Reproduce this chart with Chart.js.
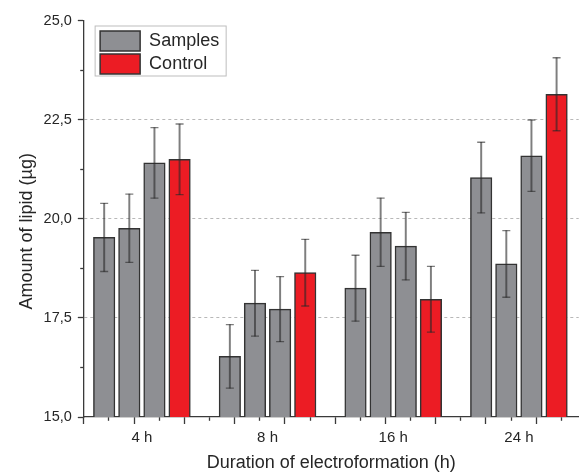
<!DOCTYPE html>
<html>
<head>
<meta charset="utf-8">
<title>Amount of lipid by duration of electroformation</title>
<script src="https://cdn.jsdelivr.net/npm/chart.js@4/dist/chart.umd.min.js"></script>
<style>
  html, body { margin: 0; padding: 0; background: #ffffff; overflow: hidden; }
  #wrap { position: relative; width: 584px; height: 472px; }
</style>
</head>
<body>
<div id="wrap"><canvas id="chart"></canvas></div>
<script>
// ---- data -------------------------------------------------------------
const groups = ['4 h', '8 h', '16 h', '24 h'];
const seriesNames = ['Samples', 'Control'];
// three sample preparations per duration (mean, µg) and their error
const sampleMeans = [
  [19.53, 19.76, 21.41],
  [16.53, 17.87, 17.72],
  [18.25, 19.66, 19.31],
  [21.04, 18.86, 21.59]
];
const sampleErrors = [
  [0.86, 0.86, 0.89],
  [0.80, 0.83, 0.82],
  [0.83, 0.86, 0.85],
  [0.89, 0.84, 0.90]
];
const controlMeans = [21.50, 18.64, 17.97, 23.14];
const controlErrors = [0.89, 0.84, 0.83, 0.92];
const yMin = 15, yMax = 25, yMajorStep = 2.5, yMinorStep = 1.25;
const xTitle = 'Duration of electroformation (h)';
const yTitle = 'Amount of lipid (µg)';

// ---- layout / style ---------------------------------------------------
const FONT = "'Liberation Sans', Arial, Helvetica, sans-serif";
const GREY = '#8e8f93', RED = '#ec1c24', EDGE = '#333333';
const ERR = 'rgba(40,40,40,0.6)', AXIS = '#3a3a3a', TEXT = '#262626';
const perGroup = sampleMeans[0].length + 1;   // samples + control
const stride = perGroup + 1;                  // one empty slot between groups
const barOffset = 0.81;                       // bar centre inside its slot
const xMax = 19.69;                           // slot axis runs 0..xMax
const slotX = (g, i) => g * stride + i + barOffset;

const samplePoints = [], controlPoints = [], stems = [], caps = [];
sampleMeans.forEach((row, g) => row.forEach((m, i) => {
  const x = slotX(g, i), e = sampleErrors[g][i];
  samplePoints.push({ x, y: m });
  stems.push({ x, y: [m - e, m + e] });
  caps.push({ x, y: m - e }, { x, y: m + e });
}));
controlMeans.forEach((m, g) => {
  const x = slotX(g, perGroup - 1), e = controlErrors[g];
  controlPoints.push({ x, y: m });
  stems.push({ x, y: [m - e, m + e] });
  caps.push({ x, y: m - e }, { x, y: m + e });
});
const groupCenters = groups.map((_, g) => g * stride + (perGroup - 1) / 2 + barOffset);

const isMajorY = v => Math.abs(v / yMajorStep - Math.round(v / yMajorStep)) < 1e-6;
const isMajorX = v => Math.round(v) % 2 === 0;

// framed legend sitting in the upper-left corner of the plot
const legendFrame = {
  id: 'legendFrame',
  afterLayout(chart) {
    const lg = chart.legend, area = chart.chartArea;
    const dx = area.left + 13.3 - lg.left, dy = area.top + 7.5 - lg.top;
    lg.left += dx; lg.right += dx;
    lg.top += dy; lg.bottom += dy;
  },
  afterDraw(chart) {
    const boxes = chart.legend.legendHitBoxes;
    if (!boxes || !boxes.length) return;
    const l = Math.min(...boxes.map(b => b.left));
    const t = Math.min(...boxes.map(b => b.top));
    const r = Math.max(...boxes.map(b => b.left + b.width));
    const b = Math.max(...boxes.map(b => b.top + b.height));
    const ctx = chart.ctx;
    ctx.save();
    ctx.strokeStyle = '#bdbdbd';
    ctx.lineWidth = 1;
    ctx.strokeRect(l - 5, t - 5, r - l + 12, b - t + 7);
    ctx.restore();
  }
};

new Chart(document.getElementById('chart'), {
  type: 'bar',
  data: {
    datasets: [
      { label: seriesNames[0], data: samplePoints, backgroundColor: GREY, borderColor: EDGE,
        borderWidth: 1.5, borderSkipped: false, barThickness: 21.5, grouped: false, order: 2 },
      { label: seriesNames[1], data: controlPoints, backgroundColor: RED, borderColor: EDGE,
        borderWidth: 1.5, borderSkipped: false, barThickness: 21.5, grouped: false, order: 2 },
      { label: 'error', data: stems, backgroundColor: ERR, borderWidth: 0,
        barThickness: 1.3, grouped: false, order: 1 },
      { type: 'scatter', label: 'error caps', data: caps, showLine: false, pointStyle: 'line',
        pointRadius: 4, pointHoverRadius: 4, borderColor: ERR, backgroundColor: ERR,
        borderWidth: 1.3, order: 0 }
    ]
  },
  options: {
    responsive: true,
    maintainAspectRatio: false,
    devicePixelRatio: 1,
    animation: false,
    layout: { padding: { left: 10, top: 20.5, right: 0, bottom: 0 } },
    plugins: {
      tooltip: { enabled: false },
      legend: {
        position: 'chartArea',
        align: 'start',
        labels: {
          boxWidth: 40, boxHeight: 20, padding: 3, color: TEXT,
          font: { family: FONT, size: 18 },
          filter: item => item.datasetIndex < 2
        }
      }
    },
    scales: {
      x: {
        type: 'linear', position: 'bottom', min: 0, max: xMax,
        offset: false,
        afterBuildTicks: scale => {
          const t = [];
          for (let v = 0; v <= Math.floor(xMax); v++) t.push({ value: v });
          scale.ticks = t;
        },
        ticks: { display: false, autoSkip: false },
        grid: {
          offset: false, drawOnChartArea: false, drawTicks: true, tickLength: 7,
          tickColor: AXIS, tickWidth: 1.3,
          tickBorderDash: c => (c.tick && !isMajorX(c.tick.value)) ? [3.5, 20] : [],
          tickBorderDashOffset: 0
        },
        border: { display: true, color: AXIS, width: 1.3 }
      },
      xLabels: {
        type: 'linear', position: 'bottom', min: 0, max: xMax,
        offset: false,
        afterBuildTicks: scale => { scale.ticks = groupCenters.map(v => ({ value: v })); },
        ticks: {
          autoSkip: false, maxRotation: 0, padding: 5, color: TEXT,
          font: { family: FONT, size: 15 },
          callback: (v, i) => groups[i]
        },
        grid: { display: false, drawTicks: false, offset: false },
        border: { display: false },
        title: {
          display: true, text: xTitle, color: TEXT,
          font: { family: FONT, size: 18, lineHeight: 1 },
          padding: { top: 2, bottom: 0 }
        }
      },
      y: {
        type: 'linear', position: 'left', min: yMin, max: yMax,
        beginAtZero: false,
        ticks: {
          stepSize: yMinorStep, padding: 6, color: TEXT,
          font: { family: FONT, size: 14.5 },
          callback: v => isMajorY(v) ? v.toFixed(1).replace('.', ',') : ''
        },
        grid: {
          drawTicks: true, tickLength: 6, tickColor: AXIS, tickWidth: 1.3, lineWidth: 1,
          color: c => (c.tick && isMajorY(c.tick.value) && c.tick.value > yMin && c.tick.value < yMax)
            ? '#b8b8b8' : 'rgba(0,0,0,0)',
          tickBorderDash: c => (c.tick && !isMajorY(c.tick.value)) ? [4, 2.4] : [],
          tickBorderDashOffset: c => (c.tick && !isMajorY(c.tick.value)) ? 4 : 0
        },
        border: { display: true, color: AXIS, width: 1.3, dash: [3, 3] },
        title: {
          display: true, text: yTitle + '     ', color: TEXT,
          font: { family: FONT, size: 18 },
          padding: { top: 6, bottom: 0 }
        }
      }
    }
  },
  plugins: [legendFrame]
});
</script>
</body>
</html>
